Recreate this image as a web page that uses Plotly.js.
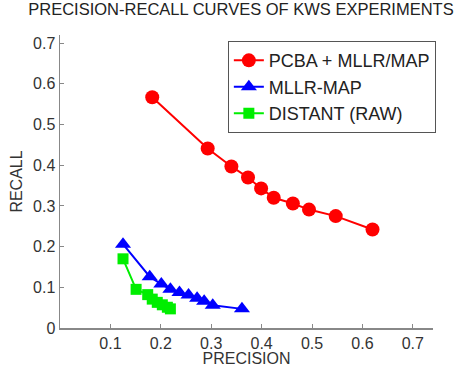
<!DOCTYPE html>
<html><head><meta charset="utf-8">
<script src="https://cdn.plot.ly/plotly-3.0.1.min.js"></script>
<style>body{margin:0;padding:0;background:#fff}#chart{width:459px;height:367px}</style>
</head><body><div id="chart"></div>
<script>
const pcbaPrecision = [0.183, 0.293, 0.340, 0.373, 0.399, 0.424, 0.462, 0.494, 0.547, 0.620];
const pcbaRecall    = [0.567, 0.441, 0.397, 0.370, 0.343, 0.320, 0.306, 0.291, 0.275, 0.242];
const mllrPrecision = [0.125, 0.178, 0.201, 0.219, 0.237, 0.255, 0.272, 0.286, 0.303, 0.361];
const mllrRecall    = [0.206, 0.126, 0.108, 0.095, 0.087, 0.081, 0.073, 0.066, 0.056, 0.047];
const distPrecision = [0.125, 0.151, 0.174, 0.183, 0.193, 0.203, 0.213, 0.219];
const distRecall    = [0.170, 0.095, 0.082, 0.071, 0.063, 0.057, 0.051, 0.047];
const seriesNames = ['PCBA + MLLR/MAP', 'MLLR-MAP', 'DISTANT (RAW)'];
const tickVals = [0.1, 0.2, 0.3, 0.4, 0.5, 0.6, 0.7];
const yTickVals = [0, 0.1, 0.2, 0.3, 0.4, 0.5, 0.6, 0.7];

const traces = [
  {x: pcbaPrecision, y: pcbaRecall, name: seriesNames[0], mode: 'lines+markers',
   line: {color: '#ff0000', width: 2}, marker: {symbol: 'circle', size: 14, color: '#ff0000'}},
  {x: mllrPrecision, y: mllrRecall, name: seriesNames[1], mode: 'lines+markers',
   line: {color: '#0000ff', width: 2}, marker: {symbol: 'triangle-up', size: 14, color: '#0000ff'}},
  {x: distPrecision, y: distRecall, name: seriesNames[2], mode: 'lines+markers',
   line: {color: '#00ee00', width: 2}, marker: {symbol: 'square', size: 11, color: '#00ee00'}}
];
const fam = 'Liberation Sans, Arial, sans-serif';
const fnt = {family: fam, size: 16, color: '#333'};
const layout = {
  width: 459, height: 367,
  margin: {l: 60, r: 26, t: 35, b: 39},
  paper_bgcolor: '#fff', plot_bgcolor: '#fff',
  font: fnt,
  title: {text: 'PRECISION-RECALL CURVES OF KWS EXPERIMENTS', x: 0.525, xanchor: 'center', y: 0.99, yanchor: 'top',
          font: {family: fam, size: 16.5, color: '#222'}},
  xaxis: {range: [0, 0.74], tickvals: tickVals, ticktext: tickVals.map(v => v.toFixed(1)),
          showgrid: false, zeroline: false, showline: true, linecolor: '#888', linewidth: 1.5,
          ticks: 'inside', ticklen: 4, tickcolor: '#888', tickfont: fnt,
          title: {text: 'PRECISION', standoff: 0, font: fnt}},
  yaxis: {range: [0, 0.72], tickvals: yTickVals, ticktext: yTickVals.map(v => v === 0 ? '0' : v.toFixed(1)),
          showgrid: false, zeroline: false, showline: true, linecolor: '#888', linewidth: 1.5,
          ticks: 'inside', ticklen: 4, tickcolor: '#888', tickfont: fnt,
          title: {text: 'RECALL', standoff: 6, font: fnt}},
  legend: {x: 0.450, y: 0.979, xanchor: 'left', yanchor: 'top', bgcolor: '#fff',
           bordercolor: '#555', borderwidth: 1, font: {family: fam, size: 18, color: '#222'},
           tracegroupgap: 0, itemwidth: 30},
  showlegend: true
};
Plotly.newPlot('chart', traces, layout, {displayModeBar: false, staticPlot: true});
</script></body></html>
